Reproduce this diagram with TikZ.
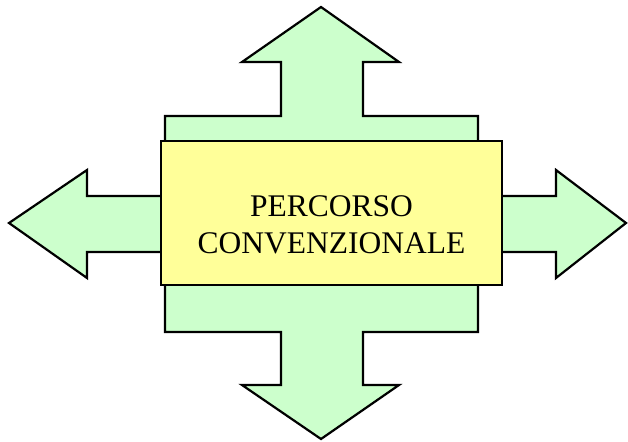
\documentclass[tikz,border=0pt]{standalone}
\usepackage{fontspec}
\setmainfont{Liberation Serif}
\definecolor{arrowgreen}{RGB}{204,255,204}
\definecolor{boxyellow}{RGB}{255,255,153}
\tikzset{
  crossshape/.style={draw=black, fill=arrowgreen, line width=2.2pt, line join=miter},
  labelbox/.style={draw=black, fill=boxyellow, line width=1.6pt, minimum width=341pt, minimum height=144pt, inner sep=0pt},
  labeltext/.style={font=\fontsize{31.5}{37}\selectfont, align=center, text=black}
}
\begin{document}
\begin{tikzpicture}[x=1pt,y=-1pt]
\useasboundingbox (0,0) rectangle (628,441);
\draw[crossshape]
  (321,7) -- (399,62) -- (363,62) -- (363,116) -- (478,116) -- (478,196)
  -- (556,196) -- (556,170) -- (626,223) -- (556,278) -- (556,252) -- (478,252)
  -- (478,332) -- (363,332) -- (363,385) -- (399,385) -- (321,439) -- (242,385)
  -- (281,385) -- (281,332) -- (165,332) -- (165,252) -- (87,252) -- (87,278)
  -- (9,223) -- (87,170) -- (87,196) -- (165,196) -- (165,116) -- (281,116)
  -- (281,62) -- (242,62) -- cycle;
\node[labelbox] (box) at (331.5,213) {};
\node[labeltext] (txt) at (331.5,225) {PERCORSO\\CONVENZIONALE};
\end{tikzpicture}
\end{document}
